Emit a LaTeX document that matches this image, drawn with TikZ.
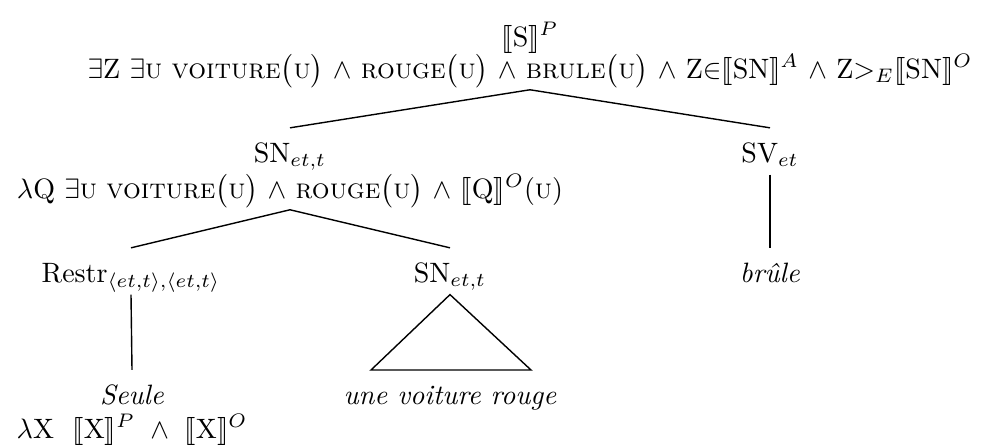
\documentclass[tikz,border=0pt]{standalone}
\usepackage{stmaryrd}
\usepackage{tikz}
\newcommand{\scarg}[1]{$\big($\textsc{#1}$\big)$}
\tikzset{
	cat/.style={anchor=base,inner sep=0pt,text height=12pt,text depth=4.3pt},
	sem/.style={anchor=base,inner sep=0pt,text depth=4pt},
	branch/.style={draw=black,line width=0.5pt},
}
\begin{document}
\begin{tikzpicture}[x=0.357pt,y=-0.357pt]
	\useasboundingbox (0,0) rectangle (986,447);
	% root
	\node[sem] (s) at (530,46) {$\llbracket$S$\rrbracket^P$};
	\node[sem] (sf) at (530,78) {$\exists$Z $\exists$\textsc{u} \textsc{voiture}\scarg{u} $\wedge$ \textsc{rouge}\scarg{u} $\wedge$ \textsc{brule}\scarg{u} $\wedge$ Z$\in$$\llbracket$SN$\rrbracket^A$ $\wedge$ Z$>_E$$\llbracket$SN$\rrbracket^O$};
	% first level
	\node[cat,text depth=2pt] (sn) at (290,162) {SN$_{et,t}$};
	\node[sem] (snf) at (290,198) {$\lambda$Q $\exists$\textsc{u} \textsc{voiture}\scarg{u} $\wedge$ \textsc{rouge}\scarg{u} $\wedge$ $\llbracket$Q$\rrbracket^O$(\textsc{u})};
	\node[cat] (sv) at (770,162) {SV$_{et}$};
	% second level
	\node[cat] (restr) at (131,282) {Restr$_{\langle et,t\rangle,\langle et,t\rangle}$};
	\node[cat] (sn2) at (450,282) {SN$_{et,t}$};
	\node[cat] (brule) at (770,282) {\textit{brûle}};
	% leaves
	\node[cat,text depth=2pt] (seule) at (132,404) {\textit{Seule}};
	\node[sem] (seulef) at (132,438) {$\lambda\mathrm{X}\ \ \llbracket\mathrm{X}\rrbracket^P\ \wedge\ \llbracket\mathrm{X}\rrbracket^O$};
	\node[cat] (vrouge) at (450,404) {\textit{une voiture rouge}};
	\coordinate (tl) at (371,370);
	\coordinate (tr) at (531,370);
	\foreach \p/\c in {sf/sn,sf/sv,snf/restr,snf/sn2,restr/seule,sv/brule}
	\draw[branch] (\p.south) -- (\c.north);
	\draw[branch] (sn2.south) -- (tr) -- (tl) -- cycle;
\end{tikzpicture}
\end{document}
